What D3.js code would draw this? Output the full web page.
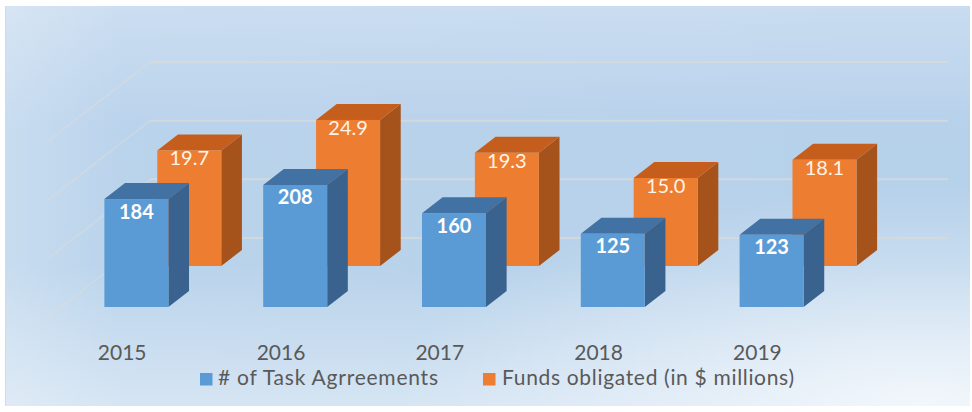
<!DOCTYPE html>
<html>
<head>
<meta charset="utf-8">
<script src="https://cdn.jsdelivr.net/npm/d3@7"></script>
<style>
  html, body { margin: 0; padding: 0; background: #ffffff; }
  svg { display: block; }
</style>
</head>
<body>
<svg id="chart" width="972" height="412"></svg>
<script>
// ---- data ----
const years = ["2015", "2016", "2017", "2018", "2019"];
const taskAgreements = [184, 208, 160, 125, 123];
const fundsObligated = [19.7, 24.9, 19.3, 15.0, 18.1];
const fundsLabels = ["19.7", "24.9", "19.3", "15.0", "18.1"];
const gridTicks = [0, 10, 20, 30];
const seriesNames = ["# of Task Agrreements", "Funds obligated (in $ millions)"];

// ---- layout ----
const W = 972, H = 412;
const svg = d3.select("#chart");
const defs = svg.append("defs");

const wallLeft = 150, wallRight = 948;
const K = 1.29;            // x shift per unit of depth (oblique projection)
const floorDepth = 80;     // depth from back wall to front floor edge
const barW = 64, barD = 16;

const yFunds = d3.scaleLinear().domain([0, 30]).range([238, 62]);
const yTasks = d3.scaleLinear().domain([0, 300]).range([238, 62]);
const x = d3.scaleBand().domain(years).range([146, 940]).paddingInner(0).paddingOuter(0);
const depth = d3.scalePoint().domain(["funds", "tasks"]).range([20, 61]);

// projection: X in back-wall plane, t = depth from back wall, y = screen y at back wall
const P = (X, t, y) => [X - K * t, y + t];

// ---- background ----
const bg = defs.append("linearGradient").attr("id", "bg").attr("x1", 0).attr("y1", 0).attr("x2", 0).attr("y2", 1);
bg.append("stop").attr("offset", "0%").attr("stop-color", "#c9dcf0");
bg.append("stop").attr("offset", "30%").attr("stop-color", "#b7d1eb");
bg.append("stop").attr("offset", "65%").attr("stop-color", "#b6d1ea");
bg.append("stop").attr("offset", "100%").attr("stop-color", "#d4e4f3");
const glow = defs.append("radialGradient").attr("id", "glow")
  .attr("cx", 0.95).attr("cy", 1.0).attr("r", 0.55);
glow.append("stop").attr("offset", "0%").attr("stop-color", "#ffffff").attr("stop-opacity", 0.7);
glow.append("stop").attr("offset", "100%").attr("stop-color", "#ffffff").attr("stop-opacity", 0);
const leftG = defs.append("linearGradient").attr("id", "leftg").attr("x1", 0).attr("y1", 0).attr("x2", 1).attr("y2", 0);
leftG.append("stop").attr("offset", "0%").attr("stop-color", "#ffffff").attr("stop-opacity", 0.25);
leftG.append("stop").attr("offset", "12%").attr("stop-color", "#ffffff").attr("stop-opacity", 0.05);
leftG.append("stop").attr("offset", "100%").attr("stop-color", "#ffffff").attr("stop-opacity", 0);

svg.append("rect").attr("x", 5).attr("y", 6).attr("width", 965).attr("height", 400).attr("fill", "url(#bg)");
svg.append("rect").attr("x", 5).attr("y", 6).attr("width", 965).attr("height", 400).attr("fill", "url(#glow)");
svg.append("rect").attr("x", 5).attr("y", 6).attr("width", 965).attr("height", 400).attr("fill", "url(#leftg)");
svg.append("line").attr("x1", 5.5).attr("x2", 5.5).attr("y1", 6).attr("y2", 406)
  .attr("stroke", "#d9d6dc").attr("stroke-width", 1);

// ---- gridlines (back wall + side wall) ----
const grid = svg.append("g");
gridTicks.forEach(v => {
  const y = yFunds(v);
  grid.append("line").attr("x1", wallLeft).attr("x2", wallRight).attr("y1", y).attr("y2", y)
    .attr("stroke", "#d9d9d9").attr("stroke-opacity", 0.75).attr("stroke-width", 2);
  const f = P(wallLeft, floorDepth, y);
  grid.append("line").attr("x1", wallLeft).attr("y1", y).attr("x2", f[0]).attr("y2", f[1])
    .attr("stroke", "#dcdcdc").attr("stroke-opacity", 0.45).attr("stroke-width", 2);
});

// ---- bars ----
function drawBar(g, X, tc, hTop, colors) {
  const tf = tc + barD / 2, tb = tc - barD / 2;
  const base = yFunds(0);
  const fTL = P(X, tf, hTop), fTR = P(X + barW, tf, hTop);
  const bTL = P(X, tb, hTop), bTR = P(X + barW, tb, hTop);
  const fBR = P(X + barW, tf, base), bBR = P(X + barW, tb, base);
  g.append("polygon").attr("points", [fTR, bTR, bBR, fBR].join(" ")).attr("fill", colors.side);
  g.append("polygon").attr("points", [fTL, fTR, bTR, bTL].join(" ")).attr("fill", colors.top);
  g.append("rect").attr("x", fTL[0]).attr("y", fTL[1]).attr("width", barW).attr("height", base - hTop)
    .attr("fill", colors.front);
  return { cx: fTL[0] + barW / 2, top: fTL[1] };
}

const orangeC = { front: "#ed7d31", top: "#c55e1c", side: "#a5521b" };
const blueC = { front: "#5b9bd5", top: "#4272a3", side: "#39638e" };

const gO = svg.append("g");
years.forEach((yr, i) => {
  const X = x(yr) + x.bandwidth() / 2 - barW / 2;
  const r = drawBar(gO, X, depth("funds"), yFunds(fundsObligated[i]), orangeC);
  gO.append("text").attr("x", r.cx).attr("y", r.top + 15).attr("text-anchor", "middle")
    .attr("font-family", "Lato, 'Open Sans', sans-serif").attr("font-size", 20)
    .attr("fill", "#fff4e6").text(fundsLabels[i]);
});
const gB = svg.append("g");
years.forEach((yr, i) => {
  const X = x(yr) + x.bandwidth() / 2 - barW / 2;
  const r = drawBar(gB, X, depth("tasks"), yTasks(taskAgreements[i]), blueC);
  gB.append("text").attr("x", r.cx).attr("y", r.top + 19.5).attr("text-anchor", "middle")
    .attr("font-family", "Lato, 'Open Sans', sans-serif").attr("font-size", 20).attr("font-weight", 700)
    .attr("fill", "#ffffff").text(taskAgreements[i]);
});

// ---- category labels ----
const gL = svg.append("g");
years.forEach(yr => {
  const c = x(yr) + x.bandwidth() / 2 - K * floorDepth;
  gL.append("text").attr("x", c).attr("y", 359.5).attr("text-anchor", "middle")
    .attr("font-family", "Lato, 'Open Sans', sans-serif").attr("font-size", 21)
    .attr("fill", "#595959").text(yr);
});

// ---- legend ----
const legend = svg.append("g");
const legendItems = [
  { name: seriesNames[0], color: blueC.front, sx: 200, tx: 218, len: 220 },
  { name: seriesNames[1], color: orangeC.front, sx: 483, tx: 502, len: 292 }
];
legendItems.forEach(it => {
  legend.append("rect").attr("x", it.sx).attr("y", 373).attr("width", 12.5).attr("height", 12.5).attr("fill", it.color);
  legend.append("text").attr("x", it.tx).attr("y", 385).attr("font-family", "Lato, 'Open Sans', sans-serif")
    .attr("font-size", 21).attr("textLength", it.len).attr("lengthAdjust", "spacing")
    .attr("fill", "#595959").text(it.name);
});
</script>
</body>
</html>
